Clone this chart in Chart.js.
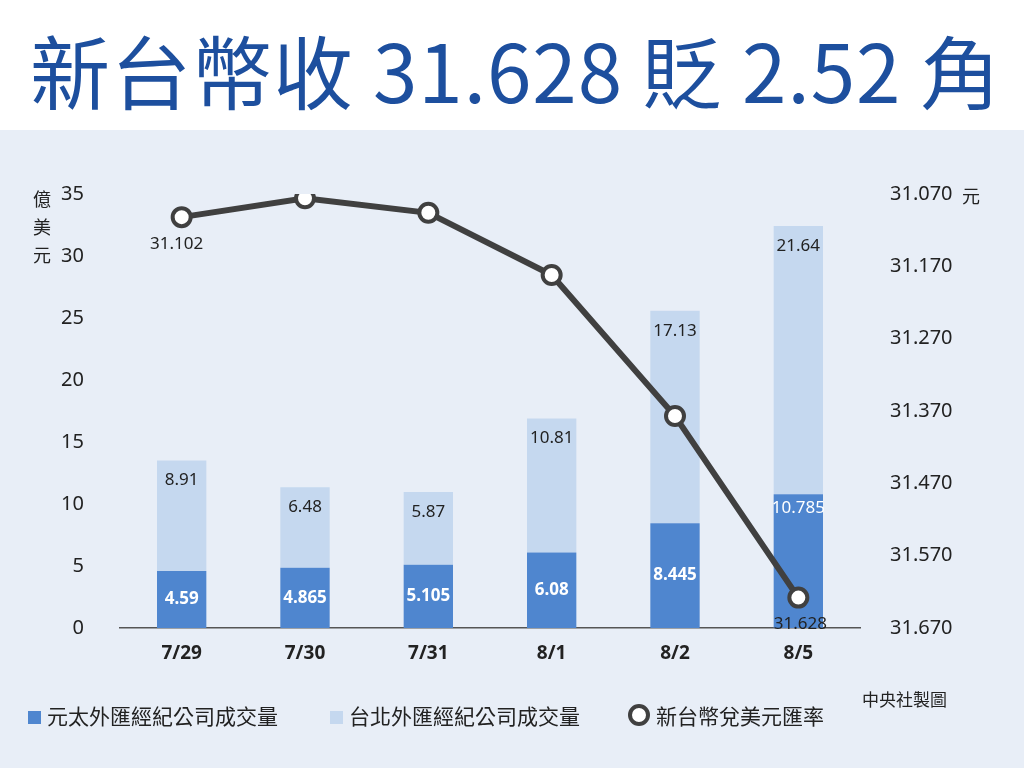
<!DOCTYPE html>
<html><head><meta charset="utf-8">
<script src="https://cdn.jsdelivr.net/npm/chart.js@4/dist/chart.umd.min.js"></script>
<style>
body{margin:0;width:1024px;height:768px;overflow:hidden;font-family:"Noto Sans CJK TC","Noto Sans",sans-serif;background:#fff;position:relative}
#title{position:absolute;left:30px;top:18px;font-size:80px;font-weight:400;color:#1d4f9e;letter-spacing:1px;line-height:100px;white-space:nowrap}
#panel{position:absolute;left:0;top:130px;width:1024px;height:638px;background:#e8eef7}
canvas{position:absolute;left:0;top:0}
.lg{position:absolute;top:700px;font-size:21px;color:#222;white-space:nowrap}
.unit{position:absolute;font-size:18px;color:#222}
</style></head><body>
<div id="title">新台幣收 31.628 貶 2.52 角</div>
<div id="panel"><canvas id="c" width="1024" height="638"></canvas></div>
<div class="unit" style="left:33px;top:184px;line-height:28px;width:20px">億<br>美<br>元</div>
<div class="unit" style="left:962px;top:182px">元</div>
<div class="unit" style="left:862px;top:686px;font-size:17px">中央社製圖</div>
<div class="lg" style="left:28px"><span style="display:inline-block;width:13px;height:13px;background:#4f86cf;margin-right:6px"></span>元太外匯經紀公司成交量</div>
<div class="lg" style="left:330px"><span style="display:inline-block;width:13px;height:13px;background:#c5d8ef;margin-right:6px"></span>台北外匯經紀公司成交量</div>
<div class="lg" style="left:628px"><span style="display:inline-block;width:14px;height:14px;border:4px solid #404040;border-radius:50%;background:#fff;margin-right:6px;vertical-align:-2px"></span>新台幣兌美元匯率</div>
<script>
const categories=["7/29","7/30","7/31","8/1","8/2","8/5"];
const yuantaVol=[4.59,4.865,5.105,6.08,8.445,10.785];
const taipeiVol=[8.91,6.48,5.87,10.81,17.13,21.64];
const rate=[31.102,31.076,31.096,31.182,31.377,31.628];
const rateLabels=["31.102","","","","","31.628"];
const leftTicks=[0,5,10,15,20,25,30,35];

const labelPlugin={id:'lbl',afterDatasetsDraw(ch){
 const ctx=ch.ctx;ctx.save();ctx.textAlign='center';ctx.textBaseline='middle';
 const m0=ch.getDatasetMeta(0),m1=ch.getDatasetMeta(1),m2=ch.getDatasetMeta(2);
 m0.data.forEach((b,i)=>{ctx.font=(i==5?'':'bold ')+'17px "Noto Sans",sans-serif';ctx.fillStyle='#fff';
   ctx.fillText(yuantaVol[i],b.x,i==5?b.y+14:(b.y+b.base)/2);});
 m1.data.forEach((b,i)=>{ctx.font='17px "Noto Sans",sans-serif';ctx.fillStyle='#222';ctx.fillText(taipeiVol[i],b.x,b.y+20);});
 m2.data.forEach((p,i)=>{if(!rateLabels[i])return;ctx.font='17px "Noto Sans",sans-serif';ctx.fillStyle='#222';
   ctx.fillText(rateLabels[i],i==0?p.x-5:p.x+2,p.y+27);});
 ctx.restore();}};

new Chart(document.getElementById('c'),{
 data:{labels:categories,datasets:[
  {type:'bar',data:yuantaVol,backgroundColor:'#4f86cf',yAxisID:'y',stack:'s',order:2,barPercentage:0.4,categoryPercentage:1},
  {type:'bar',data:taipeiVol,backgroundColor:'#c5d8ef',yAxisID:'y',stack:'s',order:2,barPercentage:0.4,categoryPercentage:1},
  {type:'line',data:rate,yAxisID:'y2',borderColor:'#404040',borderWidth:6,pointRadius:9,pointBorderWidth:4,pointBackgroundColor:'#fff',pointBorderColor:'#404040',order:1,tension:0}
 ]},
 options:{responsive:false,animation:false,layout:{padding:{top:64,left:0,right:0,bottom:0}},
  plugins:{legend:{display:false},tooltip:{enabled:false}},
  scales:{
   x:{stacked:true,grid:{display:false,drawTicks:false},border:{color:'#555',width:1.5},
      ticks:{color:'#222',font:{size:19,weight:'bold',family:'"Noto Sans",sans-serif'},padding:14},
      afterFit(s){s.height=140;}},
   y:{stacked:true,min:0,max:35,position:'left',grid:{display:false},border:{display:false},
      afterBuildTicks(s){s.ticks=leftTicks.map(v=>({value:v}));},
      ticks:{color:'#222',font:{size:20,family:'"Noto Sans",sans-serif'},padding:28},
      afterFit(s){s.width=120;}},
   y2:{position:'right',reverse:true,min:31.07,max:31.67,grid:{display:false},border:{display:false},
      ticks:{stepSize:0.1,color:'#222',font:{size:20,family:'"Noto Sans",sans-serif'},padding:22,callback:v=>v.toFixed(3)},
      afterFit(s){s.width=164;}}
  }},
 plugins:[labelPlugin]});
</script></body></html>
